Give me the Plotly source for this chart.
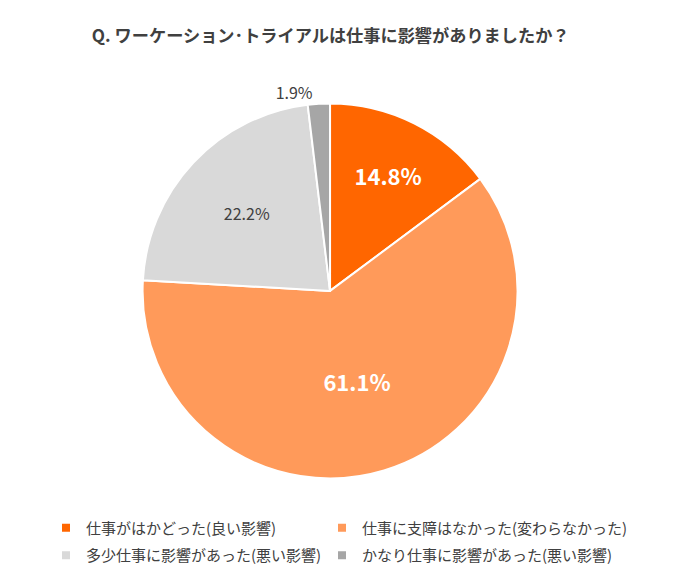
import plotly.graph_objects as go

labels = ["仕事がはかどった(良い影響)", "仕事に支障はなかった(変わらなかった)",
          "多少仕事に影響があった(悪い影響)", "かなり仕事に影響があった(悪い影響)"]
values = [14.8, 61.1, 22.2, 1.9]
colors = ["#FF6600", "#FF9A5A", "#D9D9D9", "#A6A6A6"]
text_colors = ["#FFFFFF", "#FFFFFF", "#404040", "#404040"]
text_sizes = [22, 22, 16, 16]
text_pos = ["inside", "inside", "inside", "outside"]
text_labels = ["<b>14.8%</b>", "<b>61.1%</b>", "22.2%", "1.9%"]
legend_columns = ["legend", "legend2", "legend", "legend2"]

FONT = "Noto Sans CJK JP, Meiryo, sans-serif"

fig = go.Figure(go.Pie(
    labels=labels, values=values, sort=False, direction="clockwise", rotation=0,
    marker=dict(colors=colors, line=dict(color="#FFFFFF", width=2)),
    text=text_labels, textinfo="text", textposition=text_pos,
    insidetextfont=dict(color=text_colors, size=text_sizes, family=FONT),
    outsidetextfont=dict(color="#404040", size=16, family=FONT),
    insidetextorientation="horizontal",
    domain=dict(x=[0.1915, 0.7286], y=[0.189, 0.8354]),
    hole=0, showlegend=False,
))

# legend entries (two columns), one per slice
for i, (lab, col) in enumerate(zip(labels, colors)):
    fig.add_trace(go.Scatter(
        x=[None], y=[None], mode="markers", name=lab,
        marker=dict(symbol="square", size=8, color=col),
        legend=legend_columns[i], legendgroup=f"g{i}", showlegend=True,
        hoverinfo="skip",
    ))

legend_common = dict(orientation="v", xanchor="left", y=0.1319, yanchor="top",
                     bgcolor="rgba(0,0,0,0)", tracegroupgap=5, itemwidth=30,
                     font=dict(size=15, color="#404040", family=FONT))

fig.update_layout(
    width=700, height=580,
    margin=dict(l=0, r=0, t=0, b=0),
    paper_bgcolor="white", plot_bgcolor="white",
    font=dict(family=FONT, color="#404040"),
    title=dict(text="<b>Q. ワーケーション･トライアルは仕事に影響がありましたか？</b>",
               x=0.461, xanchor="center", y=0.952, yanchor="middle",
               font=dict(size=17.2, color="#404040", family=FONT)),
    xaxis=dict(visible=False), yaxis=dict(visible=False),
    legend=dict(x=38 / 700, **legend_common),
    legend2=dict(x=314 / 700, **legend_common),
)

fig.write_html("out.html")
